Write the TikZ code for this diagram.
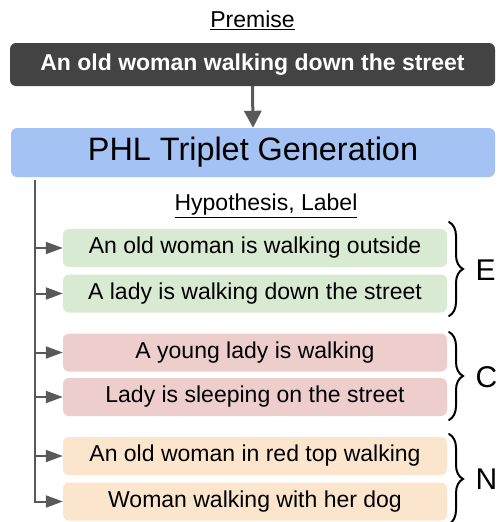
\documentclass[tikz,border=0pt]{standalone}
\usepackage{fontspec}
\setmainfont{Liberation Sans}
\usetikzlibrary{arrows.meta,decorations.pathreplacing}
\definecolor{darkbox}{HTML}{434343}
\definecolor{bluebox}{HTML}{A4C2F4}
\definecolor{greenbox}{HTML}{D9EAD3}
\definecolor{redbox}{HTML}{EECDCD}
\definecolor{orangebox}{HTML}{FCE5CD}
\definecolor{linegray}{HTML}{595959}
\begin{document}
\begin{tikzpicture}[x=1pt,y=-1pt,
  hyp/.style={rounded corners=6pt, minimum width=384pt, minimum height=38pt, inner sep=0pt,
    font=\fontsize{23}{27}\selectfont, text=black},
  conn/.style={draw=linegray, line width=2pt, -{Triangle[length=17pt,width=12pt]}},
  brc/.style={decorate, decoration={brace, amplitude=14pt}, line width=2pt, draw=black, line cap=round},
  lbl/.style={font=\fontsize{30}{34}\selectfont, anchor=west}]
\useasboundingbox (0,0) rectangle (498,522);
\node (premlbl) at (252.5,20) {\fontsize{23}{27}\selectfont\underline{Premise}};
\node[fill=darkbox, rounded corners=6pt, minimum width=485pt, minimum height=43pt, inner sep=0pt,
  text=white, font=\fontsize{23}{27}\selectfont\bfseries] (prem) at (252.5,64.5) {An old woman walking down the street};
\node[fill=bluebox, rounded corners=6pt, minimum width=484pt, minimum height=49pt, inner sep=0pt,
  font=\fontsize{32.4}{36}\selectfont] (gen) at (253,152.5) {PHL Triplet Generation};
\draw[draw=linegray, line width=3pt, -{Triangle[length=17pt,width=17pt]}] (prem.south) -- (gen.north);
\node (hyplbl) at (266,206) {\fontsize{23}{27}\selectfont\underline{Hypothesis, Label}};
\node[hyp, fill=greenbox] (h1) at (255,248) {An old woman is walking outside};
\node[hyp, fill=greenbox] (h2) at (255,293.5) {A lady is walking down the street};
\node[hyp, fill=redbox] (h3) at (255,352.5) {A young lady is walking};
\node[hyp, fill=redbox] (h4) at (255,397) {Lady is sleeping on the street};
\node[hyp, fill=orangebox] (h5) at (255,456) {An old woman in red top walking};
\node[hyp, fill=orangebox] (h6) at (255,501.5) {Woman walking with her dog};
\coordinate (trunk) at (34.5,180);
\draw[conn] (trunk) |- (h6.west);
\foreach \n in {h1,h2,h3,h4,h5} {
  \draw[conn] (\n.west -| trunk) -- (\n.west);
}
\coordinate (e1) at (449,222);
\coordinate (e2) at (449,316);
\coordinate (c1) at (449,332);
\coordinate (c2) at (449,420);
\coordinate (n1) at (449,434);
\coordinate (n2) at (449,524);
\draw[brc] (e1) -- (e2);
\draw[brc] (c1) -- (c2);
\draw[brc] (n1) -- (n2);
\node[lbl] (E) at (472,270) {E};
\node[lbl] (C) at (472,377) {C};
\node[lbl] (N) at (472,479) {N};
\end{tikzpicture}
\end{document}
